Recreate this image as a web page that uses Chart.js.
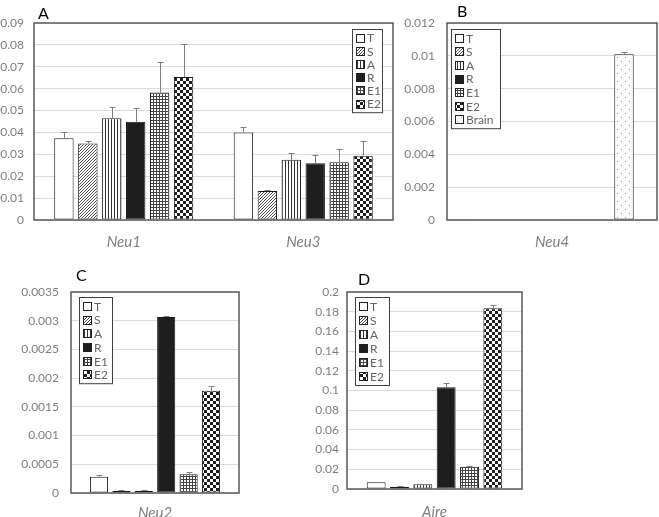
<!DOCTYPE html>
<html>
<head>
<meta charset="utf-8">
<script src="https://cdn.jsdelivr.net/npm/chart.js@4.4.1/dist/chart.umd.min.js"></script>
<style>
  body { margin: 0; background: #fff; width: 659px; height: 517px; overflow: hidden; position: relative; }
  .panel { position: absolute; }
  .letter { position: absolute; font: 16px Lato, sans-serif; color: #000; line-height: 16px; }
</style>
</head>
<body>
<div class="panel" style="left:0;top:0;width:396px;height:255px"><canvas id="chartA"></canvas></div>
<div class="panel" style="left:400px;top:0;width:259px;height:255px"><canvas id="chartB"></canvas></div>
<div class="panel" style="left:0;top:260px;width:250px;height:257px"><canvas id="chartC"></canvas></div>
<div class="panel" style="left:300px;top:260px;width:235px;height:257px"><canvas id="chartD"></canvas></div>
<div class="letter" style="left:38px;top:5px">A</div>
<div class="letter" style="left:457px;top:3px">B</div>
<div class="letter" style="left:76px;top:267px">C</div>
<div class="letter" style="left:358px;top:271px">D</div>
<script>
// groups / series
const series = ['T', 'S', 'A', 'R', 'E1', 'E2'];
const seriesB = ['T', 'S', 'A', 'R', 'E1', 'E2', 'Brain'];

// A: Neu1 and Neu3
const genesA = ['Neu1', 'Neu3'];
const neu1Mean = [0.0373, 0.035, 0.0465, 0.0449, 0.0582, 0.0653];
const neu1Sd   = [0.0027, 0.001, 0.0053, 0.0064, 0.014, 0.0151];
const neu3Mean = [0.040, 0.0132, 0.0275, 0.0259, 0.0264, 0.0294];
const neu3Sd   = [0.0026, 0.0005, 0.0032, 0.0036, 0.0062, 0.0067];

// B: Neu4 (with brain)
const genesB = ['Neu4'];
const neu4Mean = [0.00002, 0.00001, 0.00002, 0.00001, 0.00003, 0.00003, 0.0101];
const neu4Sd   = [0, 0, 0, 0, 0, 0, 0.00015];

// C: Neu2
const genesC = ['Neu2'];
const neu2Mean = [0.000284, 0.000035, 0.00004, 0.003065, 0.000325, 0.00178];
const neu2Sd   = [0.00003, 0.00001, 0.00001, 0.00001, 0.000045, 0.00008];

// D: Aire
const genesD = ['Aire'];
const aireMean = [0.0068, 0.0024, 0.0047, 0.1032, 0.0227, 0.1834];
const aireSd   = [0.0004, 0.0002, 0.0002, 0.0041, 0.0008, 0.0034];

// y axis ranges
const yMaxA = 0.09,   yStepA = 0.01;
const yMaxB = 0.012,  yStepB = 0.002;
const yMaxC = 0.0035, yStepC = 0.0005;
const yMaxD = 0.2,    yStepD = 0.02;

const FONT = 'Lato, "Open Sans", sans-serif';
const GREY = '#7f7f7f';

//Fill patterns for each group
function tile(w, h, draw) {
    const c = document.createElement('canvas');
    c.width = w; c.height = h;
    const g = c.getContext('2d');
    g.fillStyle = '#fff';
    g.fillRect(0, 0, w, h);
    draw(g);
    return g.createPattern(c, 'repeat');
}

const fills = {
    T: '#ffffff',
    S: tile(3, 3, g => {
        g.fillStyle = '#555';
        for (let y = 0; y < 3; y++) for (let x = 0; x < 3; x++)
            if ((x + y) % 3 === 2) g.fillRect(x, y, 1, 1);
    }),
    A: tile(3, 1, g => { g.fillStyle = '#333'; g.fillRect(0, 0, 1, 1); }),
    R: '#1e1e1e',
    E1: tile(3, 3, g => { g.fillStyle = '#444'; g.fillRect(0, 0, 3, 1); g.fillRect(0, 0, 1, 3); }),
    E2: tile(6, 6, g => { g.fillStyle = '#1e1e1e'; g.fillRect(0, 0, 3, 3); g.fillRect(3, 3, 3, 3); }),
    Brain: tile(8, 8, g => { g.fillStyle = '#9a9a9a'; g.fillRect(1, 1, 1, 1); g.fillRect(5, 5, 1, 1); })
};

//Error bars, plot frame and boxed legend
const extras = {
    id: 'extras',
    afterDatasetsDraw(chart) {
        const ctx = chart.ctx, y = chart.scales.y;
        ctx.save();
        ctx.strokeStyle = '#808080';
        ctx.lineWidth = 1;
        chart.data.datasets.forEach((ds, i) => {
            chart.getDatasetMeta(i).data.forEach((bar, j) => {
                const sd = ds.sd[j];
                if (!sd) return;
                const top = Math.round(y.getPixelForValue(ds.data[j] + sd)) + 0.5;
                const x = Math.round(bar.x) + 0.5;
                ctx.beginPath();
                ctx.moveTo(x, bar.y);
                ctx.lineTo(x, top);
                ctx.moveTo(x - 3, top);
                ctx.lineTo(x + 3, top);
                ctx.stroke();
            });
        });
        ctx.restore();
    },
    afterDraw(chart, args, opts) {
        const ctx = chart.ctx, a = chart.chartArea;
        ctx.save();
        ctx.strokeStyle = '#595959';
        ctx.lineWidth = 1.5;
        ctx.strokeRect(a.left, a.top, a.right - a.left, a.bottom - a.top);

        //legend box
        const L = opts.box;
        const n = chart.data.datasets.length;
        ctx.fillStyle = '#fff';
        ctx.fillRect(L.x, L.y, L.w, L.row * n + 4);
        ctx.strokeStyle = '#404040';
        ctx.lineWidth = 1;
        ctx.strokeRect(L.x + 0.5, L.y + 0.5, L.w, L.row * n + 4);
        ctx.font = '12px ' + FONT;
        ctx.textBaseline = 'middle';
        chart.data.datasets.forEach((ds, i) => {
            const cy = L.y + 2 + L.row * i + L.row / 2;
            ctx.fillStyle = ds.backgroundColor;
            ctx.fillRect(L.x + 4, Math.round(cy - 4), 9, 9);
            ctx.strokeStyle = '#222';
            ctx.strokeRect(L.x + 4.5, Math.round(cy - 4) + 0.5, 8, 8);
            ctx.fillStyle = '#666';
            ctx.fillText(ds.label, L.x + 15, cy + 1);
        });
        ctx.restore();
    }
};

function makeDatasets(names, means, sds) {
    return names.map((s, i) => ({
        label: s,
        data: means.map(m => m[i]),
        sd: sds.map(d => d[i]),
        backgroundColor: fills[s],
        borderColor: '#1a1a1a',
        borderWidth: 1,
        borderSkipped: false,
        categoryPercentage: 0.8,
        barPercentage: 0.81
    }));
}

function renderPanel(id, labels, datasets, yMax, yStep, cfg) {
    new Chart(document.getElementById(id), {
        type: 'bar',
        data: { labels: labels, datasets: datasets },
        plugins: [extras],
        options: {
            responsive: true,
            maintainAspectRatio: false,
            animation: false,
            layout: { padding: { top: cfg.top, right: cfg.right, left: 0, bottom: 0 } },
            plugins: {
                legend: { display: false },
                tooltip: { enabled: false },
                extras: { box: cfg.legend }
            },
            scales: {
                x: {
                    grid: { display: false, drawTicks: false },
                    border: { display: false },
                    ticks: { color: GREY, padding: cfg.xPad, font: { family: FONT, size: 15, style: 'italic' } },
                    afterFit: s => { s.height = cfg.xH; }
                },
                y: {
                    min: 0,
                    max: yMax,
                    grid: { color: '#dcdcdc', drawTicks: false },
                    border: { display: false },
                    ticks: {
                        stepSize: yStep,
                        color: GREY,
                        padding: cfg.yPad,
                        font: { family: FONT, size: 12 },
                        callback: v => String(+v.toFixed(5))
                    },
                    afterFit: s => { s.width = cfg.yW; }
                }
            }
        }
    });
}

renderPanel('chartA', genesA, makeDatasets(series, [neu1Mean, neu3Mean], [neu1Sd, neu3Sd]), yMaxA, yStepA,
    { top: 23, right: 3, xH: 35, xPad: 13, yW: 34, yPad: 10, legend: { x: 352, y: 29, w: 30, row: 13.2 } });

renderPanel('chartB', genesB, makeDatasets(seriesB, [neu4Mean], [neu4Sd]), yMaxB, yStepB,
    { top: 23, right: 2, xH: 35, xPad: 13, yW: 47, yPad: 12, legend: { x: 51, y: 29, w: 49, row: 13.6 } });

renderPanel('chartC', genesC, makeDatasets(series, [neu2Mean], [neu2Sd]), yMaxC, yStepC,
    { top: 32, right: 11, xH: 24, xPad: 11, yW: 71, yPad: 12, legend: { x: 79, y: 37, w: 33, row: 13.7 } });

renderPanel('chartD', genesD, makeDatasets(series, [aireMean], [aireSd]), yMaxD, yStepD,
    { top: 32, right: 13, xH: 28, xPad: 14, yW: 47, yPad: 8, legend: { x: 55, y: 37, w: 34, row: 14 } });
</script>
</body>
</html>
